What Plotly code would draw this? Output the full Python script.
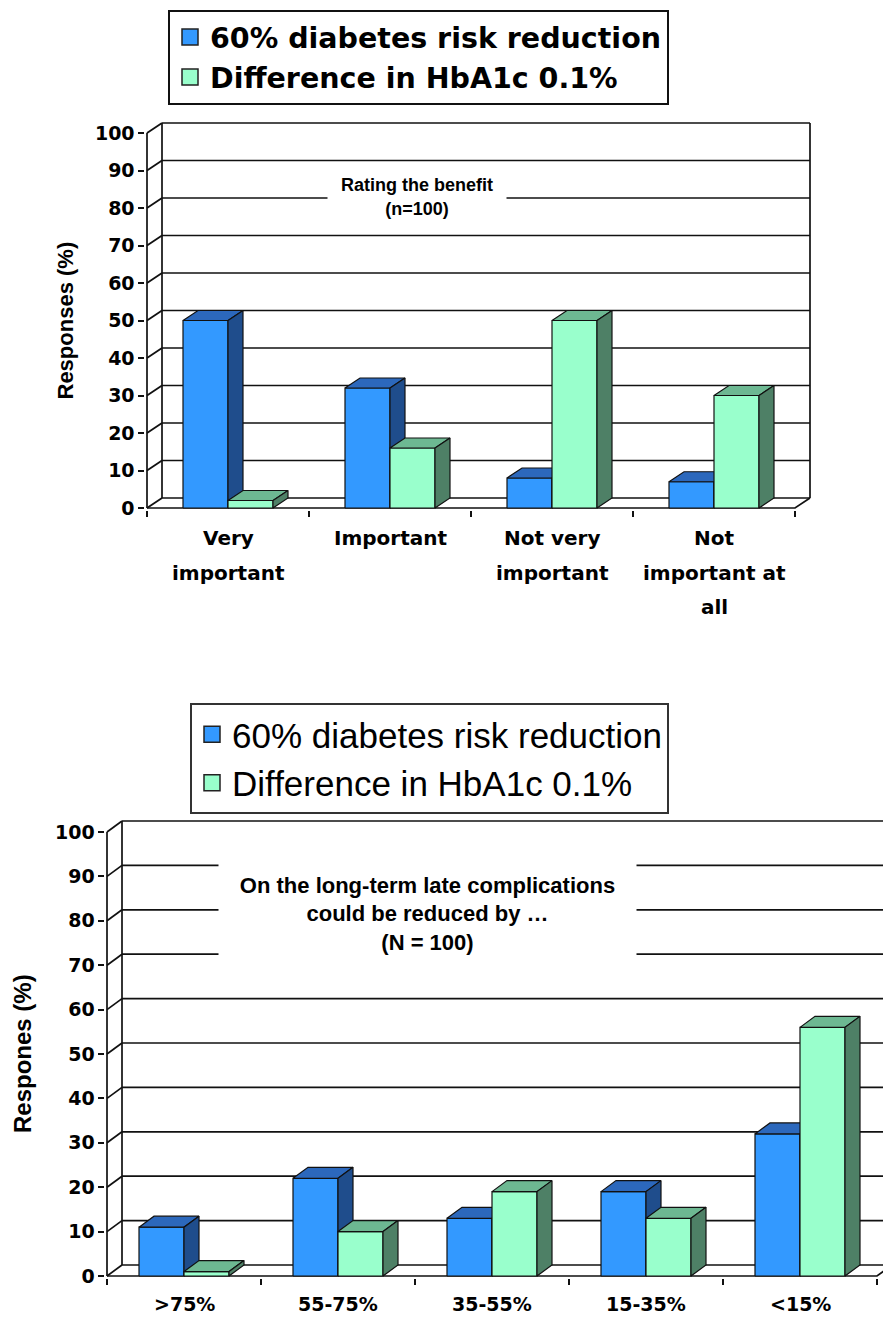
import plotly.graph_objects as go

# ---------------- data ----------------
series_names = ["60% diabetes risk reduction", "Difference in HbA1c 0.1%"]

top_categories = ["Very\nimportant", "Important", "Not very\nimportant", "Not\nimportant at\nall"]
top_risk_reduction = [50, 32, 8, 7]
top_hba1c = [2, 16, 50, 30]

bottom_categories = [">75%", "55-75%", "35-55%", "15-35%", "<15%"]
bottom_risk_reduction = [11, 22, 13, 19, 32]
bottom_hba1c = [1, 10, 19, 13, 56]

y_ticks = [0, 10, 20, 30, 40, 50, 60, 70, 80, 90, 100]

top_note = "Rating the benefit\n(n=100)"
bottom_note = "On the long-term late complications\ncould be reduced by …\n(N = 100)"
top_ytitle = "Responses (%)"
bottom_ytitle = "Respones (%)"

# ---------------- styles / layout ----------------
W, H = 883, 1317
FRONT = ["#3399FF", "#99FFCC"]
TOP = ["#2C68BC", "#6DB892"]
SIDE = ["#1F4D8C", "#4E8066"]
EDGE = "#111111"
LINE = "#111111"


def esc(s):
    return s.replace("<", "&lt;").replace("\n", "<br>")


fig = go.Figure()


def add_chart(idx, cats, series, cfg):
    xa = "x" if idx == 1 else "x%d" % idx
    ya = "y" if idx == 1 else "y%d" % idx
    n = len(cats)
    dx = cfg["depth_px"][0] / cfg["cat_px"]
    dy = cfg["depth_px"][1] / cfg["val_px"]
    vmax = y_ticks[-1]

    # 3-D frame: back-wall gridlines, side connectors, wall edges, floor edges
    lx, ly = [], []
    for v in y_ticks:
        lx += [dx, n + dx, None, 0, dx, None]
        ly += [v + dy, v + dy, None, v, v + dy, None]
    lx += [dx, dx, None, n + dx, n + dx, None, 0, 0, None, 0, n, n + dx, None]
    ly += [dy, vmax + dy, None, dy, vmax + dy, None, 0, vmax, None, 0, 0, dy, None]
    fig.add_trace(go.Scatter(x=lx, y=ly, mode="lines", line=dict(color=LINE, width=1.7),
                             hoverinfo="skip", showlegend=False, xaxis=xa, yaxis=ya))

    # 3-D bars: front, top and side faces computed from the values
    w = cfg["bar_frac"]
    for s, vals in enumerate(series):
        fx, fy, tx, ty, sx, sy = [], [], [], [], [], []
        for i, v in enumerate(vals):
            c = i + 0.5
            x0 = c - w if s == 0 else c
            x1 = x0 + w
            fx += [x0, x1, x1, x0, x0, None]
            fy += [0, 0, v, v, 0, None]
            tx += [x0, x1, x1 + dx, x0 + dx, x0, None]
            ty += [v, v, v + dy, v + dy, v, None]
            sx += [x1, x1 + dx, x1 + dx, x1, x1, None]
            sy += [0, dy, v + dy, v, 0, None]
        for X, Y, col in ((fx, fy, FRONT[s]), (tx, ty, TOP[s]), (sx, sy, SIDE[s])):
            fig.add_trace(go.Scatter(x=X, y=Y, mode="lines", fill="toself", fillcolor=col,
                                     line=dict(color=EDGE, width=1.2), hoverinfo="skip",
                                     showlegend=False, xaxis=xa, yaxis=ya))

    # legend entries
    lg = "legend" if idx == 1 else "legend%d" % idx
    for s, name in enumerate(series_names):
        fig.add_trace(go.Scatter(x=[None], y=[None], mode="markers", name=name,
                                 marker=dict(symbol="square", size=cfg["legend_marker"], color=FRONT[s],
                                             line=dict(color="#222222", width=1.5)),
                                 legend=lg, legendgroup="g%d_%d" % (idx, s),
                                 xaxis=xa, yaxis=ya))

    xr = [-0.01, min(n + dx + 0.03, (W - cfg["x0px"]) / cfg["cat_px"])]
    yr = [-0.4, vmax + dy + 1]
    xdom = [(cfg["x0px"] + xr[0] * cfg["cat_px"]) / W, (cfg["x0px"] + xr[1] * cfg["cat_px"]) / W]
    xdom[1] = min(xdom[1], 1.0)
    ydom = [1 - (cfg["y0px"] - yr[0] * cfg["val_px"]) / H, 1 - (cfg["y0px"] - yr[1] * cfg["val_px"]) / H]

    xkey = "xaxis" if idx == 1 else "xaxis%d" % idx
    ykey = "yaxis" if idx == 1 else "yaxis%d" % idx
    fig.update_layout(**{
        xkey: dict(domain=xdom, range=xr, anchor=ya, showgrid=False, zeroline=False, showline=False,
                   tickmode="array", tickvals=[i + 0.5 for i in range(n)],
                   showticklabels=False, ticks="", automargin=False,
                   minor=dict(tickmode="array", tickvals=list(range(n + 1)), ticks="outside",
                              ticklen=6, tickwidth=1.5, tickcolor=LINE, showgrid=False),
                   fixedrange=True),
        ykey: dict(domain=ydom, range=yr, anchor=xa, showgrid=False, zeroline=False, showline=False,
                   tickmode="array", tickvals=y_ticks, ticks="outside", ticklen=6, tickwidth=1.5,
                   tickcolor=LINE, automargin=False,
                   tickfont=dict(family="DejaVu Sans", size=19, color="black", weight="bold"),
                   fixedrange=True),
    })

    # category labels (one annotation per text line, spaced like the original)
    for i, cat in enumerate(cats):
        for j, line in enumerate(cat.split("\n")):
            fig.add_annotation(text="<b>%s</b>" % esc(line), showarrow=False,
                               xref=xa, yref=ya, x=i + 0.5, y=0,
                               xanchor="center", yanchor="middle",
                               yshift=-(cfg["label_first"] + j * cfg["label_step"]),
                               font=dict(family=cfg["xfont"], size=cfg["xfont_size"], color="black"))

    # y-axis title
    fig.add_annotation(text="<b>%s</b>" % cfg["ytitle"], textangle=-90, showarrow=False,
                       xref="paper", yref=ya, x=cfg["ytitle_x"] / W, y=vmax / 2,
                       xanchor="center", yanchor="middle",
                       font=dict(family="Liberation Sans", size=cfg["ytitle_size"], color="black"))
    # note box on the back wall
    nb = cfg["note_box"]
    fig.add_annotation(text="<b>%s</b>" % esc(cfg["note"]), showarrow=False,
                       xref="paper", yref="paper", x=nb[0] / W, y=1 - nb[1] / H,
                       xanchor="center", yanchor="middle", width=nb[2], height=nb[3],
                       bgcolor="white", align="center",
                       font=dict(family="Liberation Sans", size=cfg["note_size"], color="black"))


add_chart(1, top_categories, [top_risk_reduction, top_hba1c], dict(
    x0px=147, cat_px=162, depth_px=(15, 10), y0px=508, val_px=3.75, bar_frac=45 / 162,
    xfont="DejaVu Sans", xfont_size=20, label_first=30, label_step=34.5, legend_marker=18,
    ytitle=top_ytitle, ytitle_x=65, ytitle_size=22,
    note=top_note, note_box=(417, 197, 176, 64), note_size=18))

add_chart(2, bottom_categories, [bottom_risk_reduction, bottom_hba1c], dict(
    x0px=107, cat_px=154, depth_px=(15, 11), y0px=1276, val_px=4.44, bar_frac=45 / 154,
    xfont="DejaVu Sans", xfont_size=19, label_first=28, label_step=30, legend_marker=18,
    ytitle=bottom_ytitle, ytitle_x=22, ytitle_size=24,
    note=bottom_note, note_box=(427, 914, 415, 120), note_size=22))

fig.update_layout(
    width=W, height=H, margin=dict(l=0, r=0, t=0, b=0, pad=0, autoexpand=False),
    paper_bgcolor="white", plot_bgcolor="white",
    legend=dict(x=168 / W, y=1 - 10 / H, xanchor="left", yanchor="top",
                bgcolor="white", bordercolor="#111111", borderwidth=2,
                tracegroupgap=5, traceorder="normal",
                font=dict(family="DejaVu Sans", size=28.5, color="black", weight="bold")),
    legend2=dict(x=190 / W, y=1 - 703 / H, xanchor="left", yanchor="top",
                 bgcolor="white", bordercolor="#333333", borderwidth=2,
                 tracegroupgap=0, traceorder="normal",
                 font=dict(family="Liberation Sans", size=35, color="black")),
)

fig.write_html("out.html", config={"displayModeBar": False},
               post_script="document.body.style.margin='0';document.body.style.overflow='hidden';")
